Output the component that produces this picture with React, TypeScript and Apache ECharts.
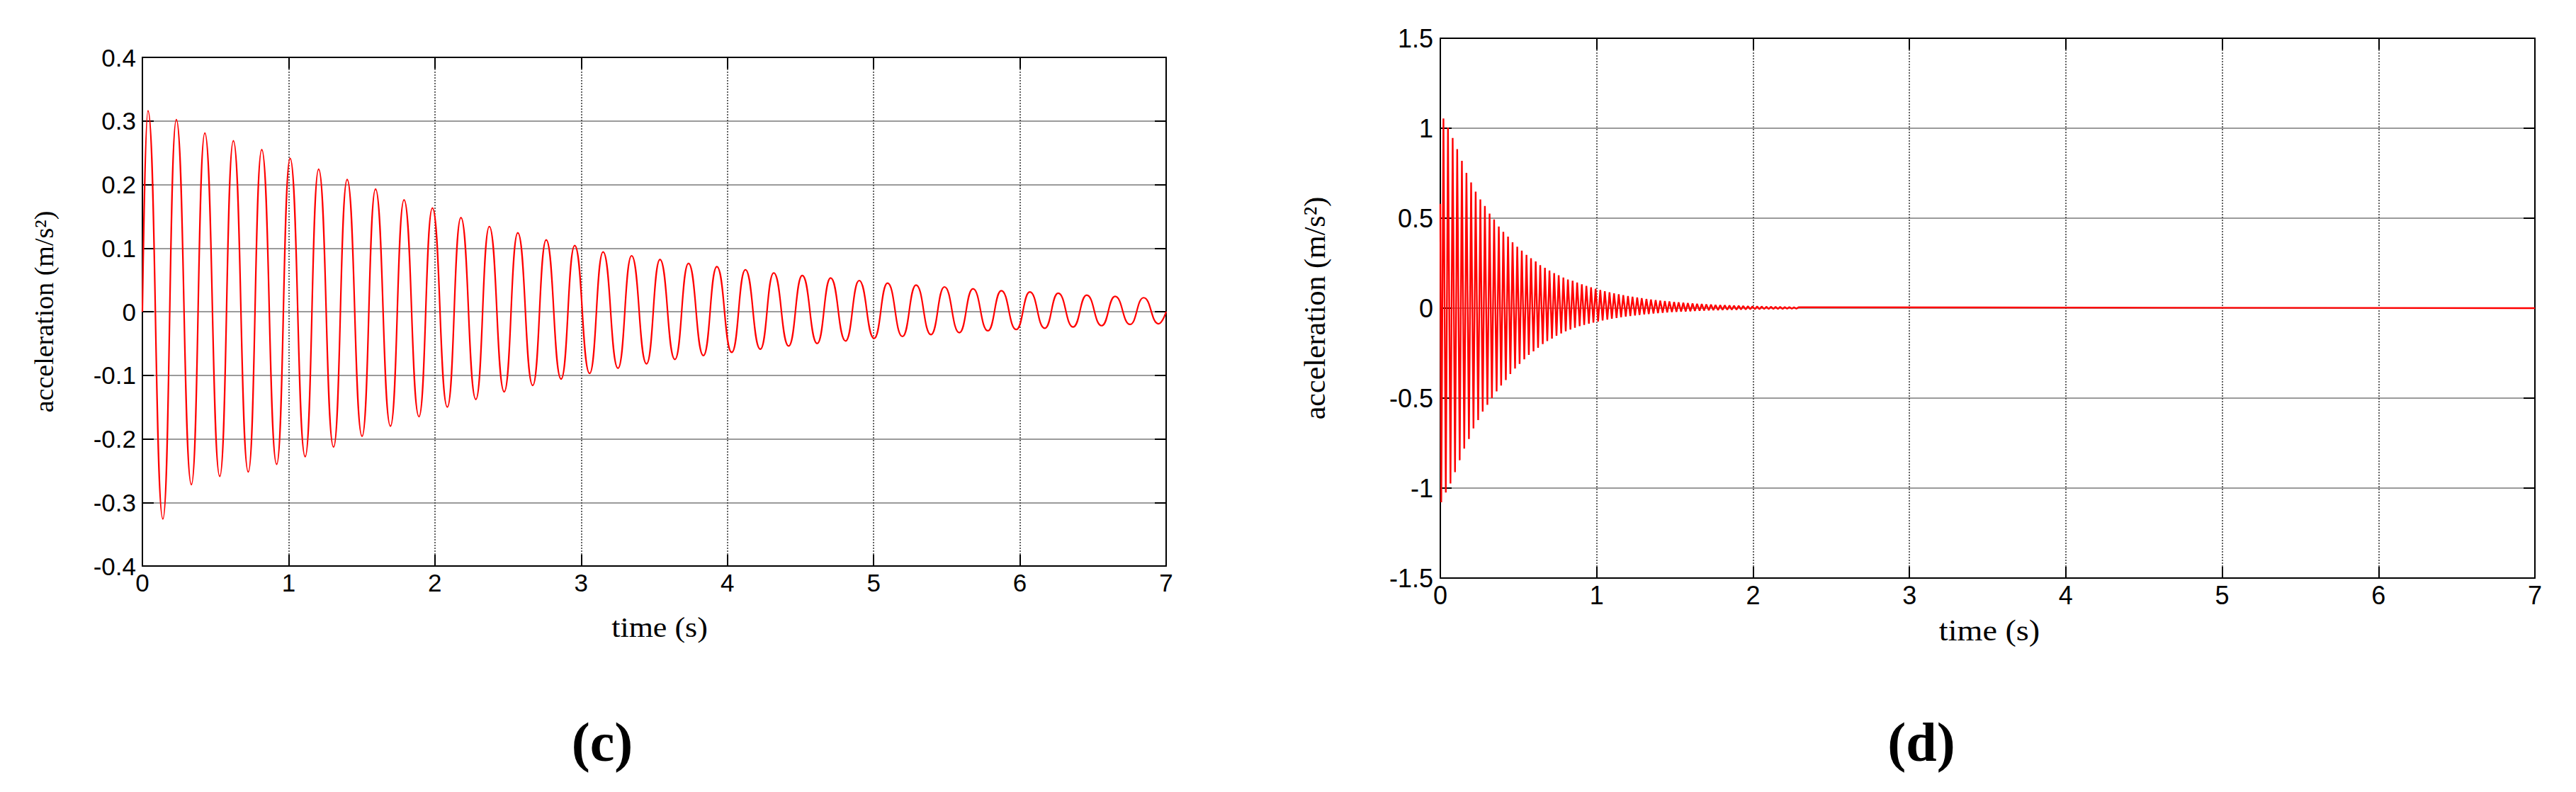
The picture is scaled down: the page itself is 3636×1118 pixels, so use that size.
import React, { useEffect, useRef } from "react";
import * as echarts from "echarts";

// ---------- Panel (c) : slow damped oscillation ----------
const cXTicks = [0, 1, 2, 3, 4, 5, 6, 7];
const cStart = [0, 0.0];
const cEnd = [7, 0.0];
const cPeakTimes = [
  0.038, 0.232, 0.427, 0.622, 0.816, 1.01, 1.205, 1.4, 1.594, 1.789, 1.983, 2.178,
  2.372, 2.567, 2.761, 2.956, 3.15, 3.345, 3.539, 3.734, 3.928, 4.123, 4.317, 4.512,
  4.706, 4.901, 5.095, 5.29, 5.484, 5.679, 5.873, 6.068, 6.262, 6.457, 6.651, 6.846,
];
const cPeakValues = [
  0.316, 0.302, 0.281, 0.269, 0.255, 0.241, 0.224, 0.208, 0.193, 0.176, 0.163, 0.148,
  0.134, 0.124, 0.113, 0.104, 0.094, 0.088, 0.082, 0.076, 0.071, 0.066, 0.061, 0.057,
  0.053, 0.049, 0.045, 0.042, 0.039, 0.036, 0.033, 0.031, 0.029, 0.026, 0.024, 0.022,
];
const cTroughTimes = [
  0.14, 0.335, 0.529, 0.724, 0.918, 1.113, 1.307, 1.502, 1.696, 1.891, 2.085, 2.28,
  2.474, 2.669, 2.863, 3.058, 3.252, 3.447, 3.641, 3.836, 4.03, 4.225, 4.419, 4.614,
  4.808, 5.003, 5.197, 5.392, 5.586, 5.781, 5.975, 6.17, 6.364, 6.559, 6.753, 6.948,
];
const cTroughValues = [
  -0.326, -0.272, -0.259, -0.252, -0.24, -0.228, -0.213, -0.196, -0.18, -0.165, -0.15, -0.138,
  -0.126, -0.116, -0.106, -0.097, -0.089, -0.082, -0.075, -0.069, -0.064, -0.059, -0.054, -0.05,
  -0.046, -0.042, -0.039, -0.036, -0.033, -0.03, -0.028, -0.026, -0.024, -0.022, -0.02, -0.019,
];

// ---------- Panel (d) : fast, strongly damped oscillation ----------
const dXTicks = [0, 1, 2, 3, 4, 5, 6, 7];
const dStart = [0, 0.58];
const dEnd = [7, 0.0];
const dPeakTimes = [
  0.02, 0.049, 0.079, 0.108, 0.138, 0.167, 0.197, 0.226, 0.256, 0.285, 0.315, 0.344,
  0.374, 0.403, 0.433, 0.462, 0.492, 0.521, 0.551, 0.58, 0.61, 0.639, 0.669, 0.698,
  0.728, 0.757, 0.787, 0.816, 0.846, 0.875, 0.905, 0.934, 0.964, 0.993, 1.023, 1.052,
  1.082, 1.111, 1.141, 1.17, 1.2, 1.229, 1.259, 1.288, 1.318, 1.347, 1.377, 1.406,
  1.436, 1.465, 1.495, 1.524, 1.554, 1.583, 1.613, 1.642, 1.672, 1.701, 1.731, 1.76,
  1.79, 1.819, 1.849, 1.878, 1.908, 1.937, 1.967, 1.996, 2.026, 2.055, 2.085, 2.114,
  2.144, 2.173, 2.203, 2.232, 2.262, 2.291,
];
const dPeakValues = [
  1.054, 1.004, 0.946, 0.884, 0.819, 0.752, 0.699, 0.648, 0.604, 0.568, 0.526, 0.493,
  0.454, 0.424, 0.398, 0.366, 0.341, 0.32, 0.296, 0.277, 0.26, 0.239, 0.224, 0.209,
  0.195, 0.183, 0.17, 0.159, 0.152, 0.142, 0.133, 0.124, 0.116, 0.108, 0.101, 0.094,
  0.088, 0.082, 0.077, 0.072, 0.067, 0.063, 0.059, 0.055, 0.051, 0.048, 0.045, 0.042,
  0.039, 0.037, 0.034, 0.032, 0.03, 0.028, 0.026, 0.024, 0.023, 0.021, 0.02, 0.018,
  0.017, 0.016, 0.015, 0.014, 0.013, 0.012, 0.011, 0.01, 0.01, 0.009, 0.008, 0.008,
  0.007, 0.007, 0.006, 0.006, 0.005, 0.005,
];
const dTroughTimes = [
  0.006, 0.035, 0.065, 0.094, 0.124, 0.153, 0.183, 0.212, 0.242, 0.271, 0.301, 0.33,
  0.36, 0.389, 0.419, 0.448, 0.478, 0.507, 0.537, 0.566, 0.596, 0.625, 0.655, 0.684,
  0.714, 0.743, 0.773, 0.802, 0.832, 0.861, 0.891, 0.92, 0.95, 0.979, 1.009, 1.038,
  1.068, 1.097, 1.127, 1.156, 1.186, 1.215, 1.245, 1.274, 1.304, 1.333, 1.363, 1.392,
  1.422, 1.451, 1.481, 1.51, 1.54, 1.569, 1.599, 1.628, 1.658, 1.687, 1.717, 1.746,
  1.776, 1.805, 1.835, 1.864, 1.894, 1.923, 1.953, 1.982, 2.012, 2.041, 2.071, 2.1,
  2.13, 2.159, 2.189, 2.218, 2.248, 2.277,
];
const dTroughValues = [
  -1.079, -1.025, -0.974, -0.911, -0.845, -0.78, -0.727, -0.668, -0.622, -0.575, -0.537, -0.5,
  -0.463, -0.43, -0.4, -0.366, -0.336, -0.31, -0.284, -0.26, -0.24, -0.22, -0.2, -0.183,
  -0.169, -0.153, -0.141, -0.129, -0.119, -0.109, -0.1, -0.093, -0.086, -0.08, -0.074, -0.069,
  -0.064, -0.059, -0.055, -0.051, -0.047, -0.044, -0.041, -0.038, -0.035, -0.033, -0.03, -0.028,
  -0.026, -0.024, -0.022, -0.021, -0.019, -0.018, -0.017, -0.015, -0.014, -0.013, -0.012, -0.011,
  -0.011, -0.01, -0.009, -0.009, -0.008, -0.007, -0.007, -0.006, -0.006, -0.006, -0.005, -0.005,
  -0.004, -0.004, -0.004, -0.003, -0.003, -0.003,
];

const cYTicks = { min: -0.4, max: 0.4, interval: 0.1 };
const dYTicks = { min: -1.5, max: 1.5, interval: 0.5 };

function buildPoints(start, pt, pv, tt, tv, end) {
  const pts = [start];
  for (let i = 0; i < Math.min(pt.length, pv.length); i++) pts.push([pt[i], pv[i]]);
  for (let i = 0; i < Math.min(tt.length, tv.length); i++) pts.push([tt[i], tv[i]]);
  pts.push(end);
  pts.sort((a, b) => a[0] - b[0]);
  return pts;
}

const fmt = (v: number) => String(Math.round(v * 10) / 10);

function axesFor(gridIndex: number, xTicks: number[], y: any, labelSize: number, xMargin: number, yMargin: number) {
  const frame = { show: true, onZero: false, lineStyle: { color: "#000", width: 2 } };
  const tick = { show: true, inside: true, length: 16, lineStyle: { color: "#000", width: 2 } };
  const labelBase = { color: "#000", fontFamily: "Liberation Sans", fontSize: labelSize };
  const xMin = xTicks[0];
  const xMax = xTicks[xTicks.length - 1];
  const xInt = xTicks[1] - xTicks[0];
  const xAxes = [
    {
      type: "value", gridIndex, position: "bottom", min: xMin, max: xMax, interval: xInt,
      axisLine: frame, axisTick: tick,
      axisLabel: { ...labelBase, margin: xMargin, formatter: (v: number) => String(v) },
      splitLine: { show: true, lineStyle: { color: "#333", width: 1.5, type: [2, 2] } },
    },
    {
      type: "value", gridIndex, position: "top", min: xMin, max: xMax, interval: xInt,
      axisLine: frame, axisTick: tick, axisLabel: { show: false }, splitLine: { show: false },
    },
  ];
  const yAxes = [
    {
      type: "value", gridIndex, position: "left", min: y.min, max: y.max, interval: y.interval,
      axisLine: frame, axisTick: tick,
      axisLabel: { ...labelBase, margin: yMargin, formatter: fmt },
      splitLine: { show: true, lineStyle: { color: "#7a7a7a", width: 1.5, type: "solid" } },
    },
    {
      type: "value", gridIndex, position: "right", min: y.min, max: y.max, interval: y.interval,
      axisLine: frame, axisTick: tick, axisLabel: { show: false }, splitLine: { show: false },
    },
  ];
  return { xAxes, yAxes };
}

export default function App() {
  const ref = useRef<HTMLDivElement>(null);
  useEffect(() => {
    if (!ref.current) return;
    const chart = echarts.init(ref.current, null, { renderer: "svg" });
    const c = axesFor(0, cXTicks, cYTicks, 35, 6, 9);
    const d = axesFor(1, dXTicks, dYTicks, 36, 6, 10);
    const cData = buildPoints(cStart, cPeakTimes, cPeakValues, cTroughTimes, cTroughValues, cEnd);
    const dData = buildPoints(dStart, dPeakTimes, dPeakValues, dTroughTimes, dTroughValues, dEnd);
    chart.setOption({
      animation: false,
      backgroundColor: "#fff",
      grid: [
        { left: 201, top: 81, width: 1445, height: 718, containLabel: false },
        { left: 2033, top: 54, width: 1545, height: 762, containLabel: false },
      ],
      xAxis: [...c.xAxes, ...d.xAxes],
      yAxis: [...c.yAxes, ...d.yAxes],
      series: [
        {
          type: "line", xAxisIndex: 0, yAxisIndex: 0, data: cData, showSymbol: false,
          smooth: 0.5, smoothMonotone: "x", lineStyle: { color: "#ff0000", width: 2.2 },
          itemStyle: { color: "#ff0000" }, z: 5,
        },
        {
          type: "line", xAxisIndex: 2, yAxisIndex: 2, data: dData, showSymbol: false,
          lineStyle: { color: "#ff0000", width: 2.4 }, itemStyle: { color: "#ff0000" }, z: 5,
        },
      ],
      graphic: [
        {
          type: "text", x: 62, y: 440, rotation: Math.PI / 2,
          style: { text: "acceleration (m/s²)", fontFamily: "Liberation Serif", fontSize: 38, fill: "#000", align: "center", verticalAlign: "middle" },
        },
        {
          type: "text", x: 931, y: 886, scaleX: 1.1,
          style: { text: "time (s)", fontFamily: "Liberation Serif", fontSize: 40, fill: "#000", align: "center", verticalAlign: "middle" },
        },
        {
          type: "text", x: 1856, y: 435, rotation: Math.PI / 2,
          style: { text: "acceleration (m/s²)", fontFamily: "Liberation Serif", fontSize: 42, fill: "#000", align: "center", verticalAlign: "middle" },
        },
        {
          type: "text", x: 2808, y: 890, scaleX: 1.1,
          style: { text: "time (s)", fontFamily: "Liberation Serif", fontSize: 42, fill: "#000", align: "center", verticalAlign: "middle" },
        },
        {
          type: "text", x: 850, y: 1047,
          style: { text: "(c)", fontFamily: "Liberation Serif", fontWeight: "bold", fontSize: 78, fill: "#000", align: "center", verticalAlign: "middle" },
        },
        {
          type: "text", x: 2712, y: 1047,
          style: { text: "(d)", fontFamily: "Liberation Serif", fontWeight: "bold", fontSize: 78, fill: "#000", align: "center", verticalAlign: "middle" },
        },
      ],
    });
    return () => chart.dispose();
  }, []);
  return (
    <div
      ref={ref}
      style={{ position: "absolute", left: 0, top: 0, width: 3636, height: 1118, background: "#fff" }}
    />
  );
}
